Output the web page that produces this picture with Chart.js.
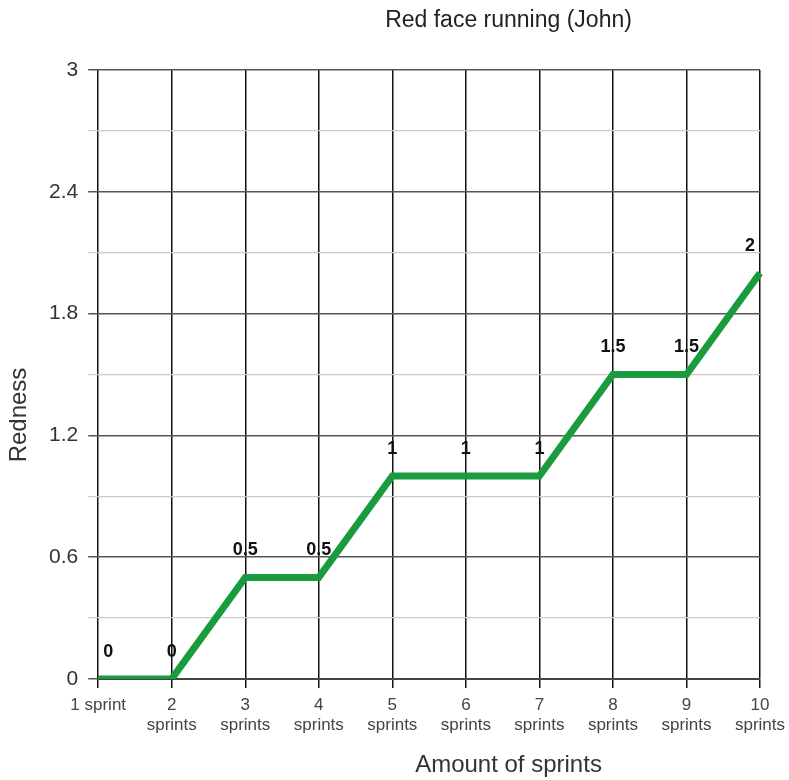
<!DOCTYPE html>
<html>
<head>
<meta charset="utf-8">
<script src="https://cdn.jsdelivr.net/npm/chart.js@4/dist/chart.umd.min.js"></script>
<style>
  html, body { margin: 0; padding: 0; background: #fff; }
  #wrap { width: 789px; height: 780px; position: relative; }
</style>
</head>
<body>
<div id="wrap"><canvas id="sprintChart"></canvas></div>
<script>
const sprintLabels = [
  '1 sprint', ['2', 'sprints'], ['3', 'sprints'], ['4', 'sprints'], ['5', 'sprints'],
  ['6', 'sprints'], ['7', 'sprints'], ['8', 'sprints'], ['9', 'sprints'], ['10', 'sprints']
];
const rednessValues = [0, 0, 0.5, 0.5, 1, 1, 1, 1.5, 1.5, 2];
const yTickValues = [0, 0.6, 1.2, 1.8, 2.4, 3];

const FONT = "'Liberation Sans', Arial, sans-serif";

function isMajor(v) {
  return yTickValues.some(function (m) { return Math.abs(m - v) < 1e-6; });
}

// point value labels + titles drawn by hand
const annotate = {
  id: 'annotate',
  afterDatasetsDraw(chart) {
    const ctx = chart.ctx;
    const area = chart.chartArea;
    const meta = chart.getDatasetMeta(0);
    ctx.save();
    ctx.font = 'bold 18px ' + FONT;
    ctx.fillStyle = '#111';
    ctx.textAlign = 'center';
    ctx.textBaseline = 'middle';
    meta.data.forEach(function (pt, i) {
      const txt = String(rednessValues[i]);
      const w = ctx.measureText(txt).width;
      let x = pt.x;
      if (x - w / 2 < area.left + 4) x = area.left + 5 + w / 2;
      if (x + w / 2 > area.right - 4) x = area.right - 5 - w / 2;
      ctx.fillText(txt, x, pt.y - 27);
    });

    const cx = area.left + (area.right - area.left) * 0.62;
    ctx.font = '23px ' + FONT;
    ctx.fillStyle = '#222';
    ctx.fillText('Red face running (John)', cx, 21);
    ctx.font = '24px ' + FONT;
    ctx.fillStyle = '#333';
    ctx.fillText('Amount of sprints', cx, 765);

    ctx.translate(19, 415);
    ctx.rotate(-Math.PI / 2);
    ctx.fillText('Redness', 0, 0);
    ctx.restore();
  }
};

new Chart(document.getElementById('sprintChart'), {
  type: 'line',
  data: {
    labels: sprintLabels,
    datasets: [{
      data: rednessValues,
      borderColor: '#1a9c3e',
      borderWidth: 7,
      pointRadius: 0,
      tension: 0,
      fill: false
    }]
  },
  options: {
    responsive: true,
    maintainAspectRatio: false,
    animation: false,
    layout: { padding: { top: 70, left: 39, right: 29, bottom: 37 } },
    plugins: {
      legend: { display: false },
      title: { display: false },
      tooltip: { enabled: false }
    },
    scales: {
      x: {
        offset: false,
        afterFit(scale) {
          // let the last label hang into the right padding
          scale.paddingRight = 0;
        },
        grid: {
          color: '#111',
          lineWidth: 1.5,
          tickLength: 9
        },
        border: { color: '#444', width: 2 },
        ticks: {
          color: '#444',
          font: { family: FONT, size: 17, lineHeight: 1.15 },
          maxRotation: 0,
          autoSkip: false,
          padding: 8
        }
      },
      y: {
        min: 0,
        max: 3,
        afterBuildTicks(axis) {
          const t = [];
          for (let k = 0; k <= 10; k++) t.push({ value: Math.round(k * 3) / 10 });
          axis.ticks = t;
        },
        grid: {
          color(c) {
            return isMajor(c.tick ? c.tick.value : 0) ? '#555' : '#ccc';
          },
          lineWidth(c) {
            return isMajor(c.tick ? c.tick.value : 0) ? 1.5 : 1.2;
          },
          tickLength: 10
        },
        border: { display: false },
        ticks: {
          color: '#333',
          font: { family: FONT, size: 21 },
          padding: 10,
          callback(v) {
            return isMajor(v) ? String(v) : '';
          }
        }
      }
    }
  },
  plugins: [annotate]
});
</script>
</body>
</html>
